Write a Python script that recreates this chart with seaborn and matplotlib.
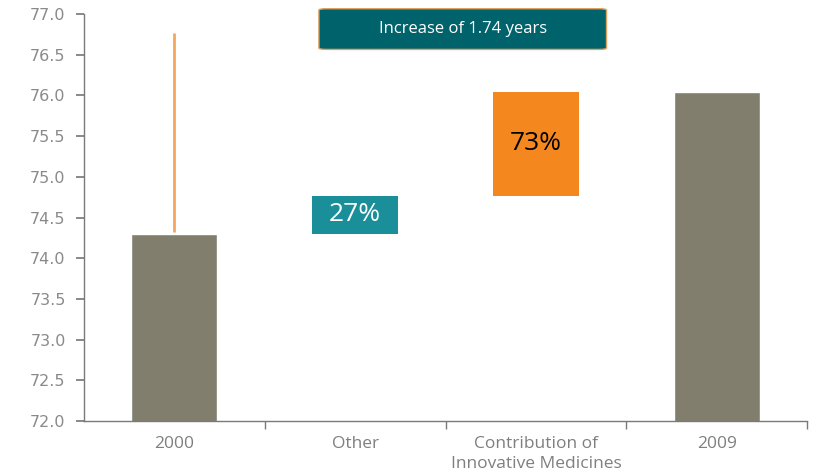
import matplotlib
matplotlib.use("Agg")
import matplotlib.pyplot as plt
import seaborn as sns
import pandas as pd
from matplotlib.patches import FancyBboxPatch

categories = ["2000", "Other", "Contribution of\nInnovative Medicines", "2009"]
totals = [74.30, None, None, 76.04]
float_bottoms = [74.30, 74.77]
float_tops = [74.77, 76.04]
float_labels = ["27%", "73%"]
range_low, range_high = 74.32, 76.77
yticks = [72.0, 72.5, 73.0, 73.5, 74.0, 74.5, 75.0, 75.5, 76.0, 76.5, 77.0]
note = "Increase of 1.74 years"

sns.set_theme(style="white")
fig = plt.figure(figsize=(8.13, 4.75), dpi=100)
ax = fig.add_axes([0.103, 0.1137, 0.890, 0.8568])

df = pd.DataFrame({"cat": categories, "val": [v if v is not None else 0 for v in totals]})
sns.barplot(data=df, x="cat", y="val", color="#817e6e", saturation=1, width=0.475, ax=ax)

float_colors = ["#1a8f9a", "#f5871f"]
text_colors = ["white", "black"]
for i, (b, t, lab) in enumerate(zip(float_bottoms, float_tops, float_labels)):
    xpos = i + 1
    ax.bar(xpos, t - b, bottom=b, width=0.475, color=float_colors[i], linewidth=0)
    ax.text(xpos, b + (t - b) / 2, lab, ha="center", va="center",
            fontsize=19, color=text_colors[i], family="Open Sans")

ax.vlines(0, range_low, range_high, color="#f7a55e", linewidth=2)

box = FancyBboxPatch((0.80, 76.565), 1.59, 0.50, boxstyle="round,pad=0,rounding_size=0.04",
                     mutation_aspect=0.45,
                     facecolor="#00636b", edgecolor="#e0a060", linewidth=1, clip_on=False, zorder=5)
ax.add_patch(box)
ax.text(0.80 + 1.59 / 2, 76.82, note, ha="center", va="center", color="white",
        fontsize=12, family="Open Sans", zorder=6, clip_on=False)

ax.set_ylim(72.0, 77.0)
ax.set_xlim(-0.5, 3.5)
ax.set_yticks(yticks)
ax.set_yticklabels([f"{v:.1f}" for v in yticks], color="#8a8a8a", fontsize=11.5)
ax.set_xticks(range(len(categories)))
ax.set_xticklabels(categories, color="#7f7f7f", fontsize=12.5, family="Open Sans",
                   linespacing=1.35)
ax.set_xticks([0.5, 1.5, 2.5, 3.5], minor=True)
ax.tick_params(axis="x", which="major", length=0, pad=11)
ax.tick_params(axis="x", which="minor", length=6, direction="out", color="#7a7a7a", bottom=True)
ax.tick_params(axis="y", length=6, direction="out", color="#7a7a7a", left=True, pad=7)
ax.set_xlabel("")
ax.set_ylabel("")
for s in ["top", "right"]:
    ax.spines[s].set_visible(False)
for s in ["left", "bottom"]:
    ax.spines[s].set_color("#7a7a7a")
    ax.spines[s].set_linewidth(1)

fig.savefig("out.png", dpi=100)
